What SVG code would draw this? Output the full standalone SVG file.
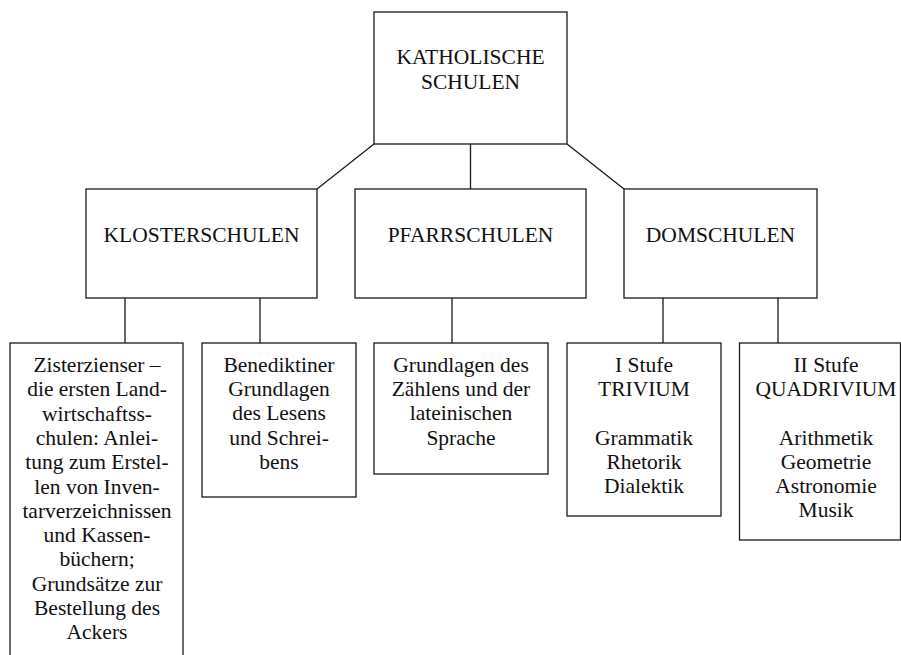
<svg xmlns="http://www.w3.org/2000/svg" width="901" height="655" viewBox="0 0 901 655">
<style>
.box{fill:#fff;stroke:#1a1a1a;stroke-width:1.3}
.ln{stroke:#1a1a1a;stroke-width:1.3;fill:none}
text{font-size:21.5px;fill:#111;text-anchor:middle}
</style>
<rect width="901" height="655" fill="#fff"/>
<g id="connectors">
<line class="ln" x1="374" y1="144" x2="317" y2="189"/>
<line class="ln" x1="470.5" y1="144" x2="470.5" y2="189"/>
<line class="ln" x1="567" y1="144" x2="624" y2="189"/>
<line class="ln" x1="125" y1="298" x2="125" y2="343"/>
<line class="ln" x1="260" y1="298" x2="260" y2="343"/>
<line class="ln" x1="452" y1="298" x2="452" y2="343"/>
<line class="ln" x1="663" y1="298" x2="663" y2="343"/>
<line class="ln" x1="778" y1="298" x2="778" y2="343"/>
</g>
<g font-family="Liberation Serif, Tinos, DejaVu Serif, serif">
<g id="katholische">
<rect class="box" x="374" y="12" width="193" height="132"/>
<text x="470.5" y="64">KATHOLISCHE</text>
<text x="470.5" y="89">SCHULEN</text>
</g>
<g id="kloster">
<rect class="box" x="86" y="189" width="231" height="109"/>
<text x="201.5" y="242">KLOSTERSCHULEN</text>
</g>
<g id="pfarr">
<rect class="box" x="355" y="189" width="231" height="109"/>
<text x="470.5" y="242">PFARRSCHULEN</text>
</g>
<g id="dom">
<rect class="box" x="624" y="189" width="193" height="109"/>
<text x="720.5" y="242">DOMSCHULEN</text>
</g>
<g id="zisterzienser">
<rect class="box" x="10" y="343" width="173" height="330"/>
<text x="97" y="372">Zisterzienser –</text>
<text x="97" y="396.3">die ersten Land-</text>
<text x="97" y="420.6">wirtschaftss-</text>
<text x="97" y="444.9">chulen: Anlei-</text>
<text x="97" y="469.2">tung zum Erstel-</text>
<text x="97" y="493.5">len von Inven-</text>
<text x="97" y="517.8">tarverzeichnissen</text>
<text x="97" y="542.1">und Kassen-</text>
<text x="97" y="566.4">büchern;</text>
<text x="97" y="590.7">Grundsätze zur</text>
<text x="97" y="615">Bestellung des</text>
<text x="97" y="639.3">Ackers</text>
</g>
<g id="benediktiner">
<rect class="box" x="202" y="343" width="154" height="154"/>
<text x="279" y="372">Benediktiner</text>
<text x="279" y="396.2">Grundlagen</text>
<text x="279" y="420.4">des Lesens</text>
<text x="279" y="444.6">und Schrei-</text>
<text x="279" y="468.8">bens</text>
</g>
<g id="grundlagen">
<rect class="box" x="374" y="343" width="174" height="131"/>
<text x="461" y="372">Grundlagen des</text>
<text x="461" y="396.2">Zählens und der</text>
<text x="461" y="420.4">lateinischen</text>
<text x="461" y="444.6">Sprache</text>
</g>
<g id="trivium">
<rect class="box" x="567" y="343" width="154" height="173"/>
<text x="644" y="372">I Stufe</text>
<text x="644" y="396.2">TRIVIUM</text>
<text x="644" y="444.6">Grammatik</text>
<text x="644" y="468.8">Rhetorik</text>
<text x="644" y="493">Dialektik</text>
</g>
<g id="quadrivium">
<rect class="box" x="739.5" y="343" width="161" height="197"/>
<text x="826" y="372">II Stufe</text>
<text x="826" y="396.2">QUADRIVIUM</text>
<text x="826" y="444.6">Arithmetik</text>
<text x="826" y="468.8">Geometrie</text>
<text x="826" y="493">Astronomie</text>
<text x="826" y="517.2">Musik</text>
</g>
</g>
</svg>
